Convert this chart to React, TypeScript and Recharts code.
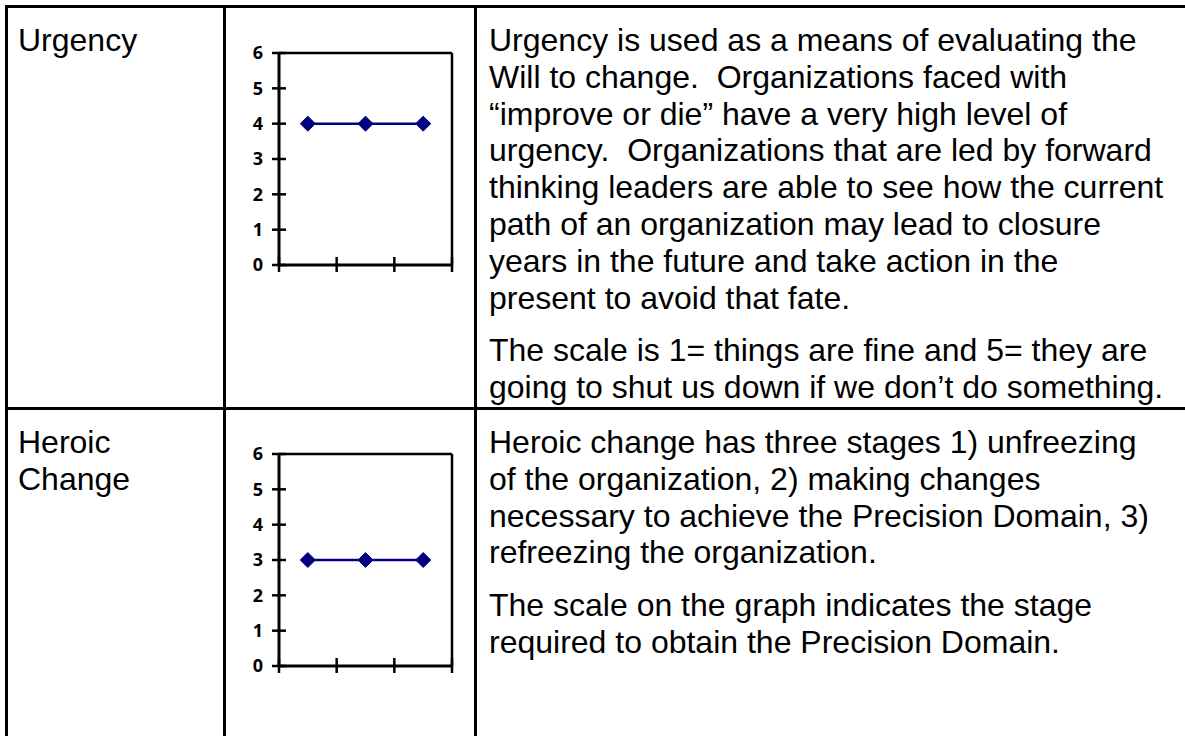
import React from "react";
import { LineChart, Line, XAxis, YAxis, ReferenceLine } from "recharts";

const categories = [1, 2, 3];
const urgencyValues = [4, 4, 4];
const heroicValues = [3, 3, 3];
const yTicks = [0, 1, 2, 3, 4, 5, 6];
const xTicks = [0, 1, 2, 3];

const urgencyLabel = ["Urgency"];
const heroicLabel = ["Heroic", "Change"];

const urgencyPara1 = [
  "Urgency is used as a means of evaluating the",
  "Will to change.  Organizations faced with",
  "\u201Cimprove or die\u201D have a very high level of",
  "urgency.  Organizations that are led by forward",
  "thinking leaders are able to see how the current",
  "path of an organization may lead to closure",
  "years in the future and take action in the",
  "present to avoid that fate.",
];
const urgencyPara2 = [
  "The scale is 1= things are fine and 5= they are",
  "going to shut us down if we don\u2019t do something.",
];
const heroicPara1 = [
  "Heroic change has three stages 1) unfreezing",
  "of the organization, 2) making changes",
  "necessary to achieve the Precision Domain, 3)",
  "refreezing the organization.",
];
const heroicPara2 = [
  "The scale on the graph indicates the stage",
  "required to obtain the Precision Domain.",
];

const NAVY = "#000080";
const FONT = "'Liberation Sans', Arial, sans-serif";
const LH = 36.8;
const PARA_GAP = 16;

const YTick = (props: any) => {
  const { x, y, payload } = props;
  return (
    <g>
      <line x1={x - 7} x2={x + 7} y1={y} y2={y} stroke="#000" strokeWidth={2.5} />
      <text
        x={x - 16}
        y={y}
        dy="0.36em"
        textAnchor="end"
        fontFamily="'Open Sans', Lato, sans-serif"
        fontWeight={700}
        fontSize={18}
        fill="#000"
      >
        {payload.value}
      </text>
    </g>
  );
};

const XTick = (props: any) => {
  const { x, y } = props;
  return <line x1={x} x2={x} y1={y - 8} y2={y + 7} stroke="#000" strokeWidth={2.5} />;
};

const Diamond = (props: any) => {
  const { cx, cy, index } = props;
  if (cx == null || cy == null) return <g key={index} />;
  const r = 7.5;
  return (
    <polygon
      key={index}
      points={`${cx},${cy - r} ${cx + r},${cy} ${cx},${cy + r} ${cx - r},${cy}`}
      fill={NAVY}
      stroke={NAVY}
      strokeWidth={1}
    />
  );
};

function MiniChart({ values, left, top }: { values: number[]; left: number; top: number }) {
  const data = categories.map((c, i) => ({ x: c - 0.5, v: values[i] }));
  return (
    <div style={{ position: "absolute", left, top, width: 240, height: 260 }}>
      <LineChart width={240} height={260} data={data} margin={{ top: 23, right: 14, left: 0, bottom: 0 }}>
        <XAxis
          dataKey="x"
          type="number"
          domain={[0, 3]}
          ticks={xTicks}
          height={25}
          tickSize={0}
          tickMargin={0}
          tickLine={false}
          axisLine={{ stroke: "#000", strokeWidth: 3 }}
          tick={<XTick />}
          interval={0}
        />
        <YAxis
          type="number"
          domain={[0, 6]}
          ticks={yTicks}
          width={53}
          tickSize={0}
          tickMargin={0}
          tickLine={false}
          axisLine={{ stroke: "#000", strokeWidth: 3 }}
          tick={<YTick />}
          interval={0}
        />
        <ReferenceLine y={6} stroke="#000" strokeWidth={2.5} />
        <ReferenceLine x={3} stroke="#000" strokeWidth={2.5} />
        <Line
          dataKey="v"
          stroke={NAVY}
          strokeWidth={2.5}
          dot={<Diamond />}
          activeDot={false}
          isAnimationActive={false}
        />
      </LineChart>
    </div>
  );
}

function TextBlock({ paras, left, top }: { paras: string[][]; left: number; top: number }) {
  return (
    <div
      style={{
        position: "absolute",
        left,
        top,
        fontFamily: FONT,
        fontSize: 32,
        lineHeight: `${LH}px`,
        color: "#000",
        whiteSpace: "pre",
      }}
    >
      {paras.map((p, pi) => (
        <div key={pi} style={{ marginTop: pi === 0 ? 0 : PARA_GAP }}>
          {p.map((line, li) => (
            <div key={li}>{line}</div>
          ))}
        </div>
      ))}
    </div>
  );
}

const hLine = (top: number): React.CSSProperties => ({
  position: "absolute",
  left: 5,
  top,
  width: 1180,
  height: 3,
  background: "#000",
});
const vLine = (left: number): React.CSSProperties => ({
  position: "absolute",
  left,
  top: 5,
  width: 3,
  height: 731,
  background: "#000",
});

export default function App() {
  return (
    <div
      style={{
        position: "absolute",
        left: 0,
        top: 0,
        width: 1185,
        height: 736,
        overflow: "hidden",
        background: "#fff",
      }}
    >
      <div style={hLine(5)} />
      <div style={hLine(407)} />
      <div style={vLine(5)} />
      <div style={vLine(223)} />
      <div style={vLine(474)} />

      <TextBlock paras={[urgencyLabel]} left={18} top={22} />
      <TextBlock paras={[heroicLabel]} left={18} top={424} />

      <MiniChart values={urgencyValues} left={226} top={30} />
      <MiniChart values={heroicValues} left={226} top={431} />

      <TextBlock paras={[urgencyPara1, urgencyPara2]} left={489} top={22} />
      <TextBlock paras={[heroicPara1, heroicPara2]} left={489} top={424} />
    </div>
  );
}
